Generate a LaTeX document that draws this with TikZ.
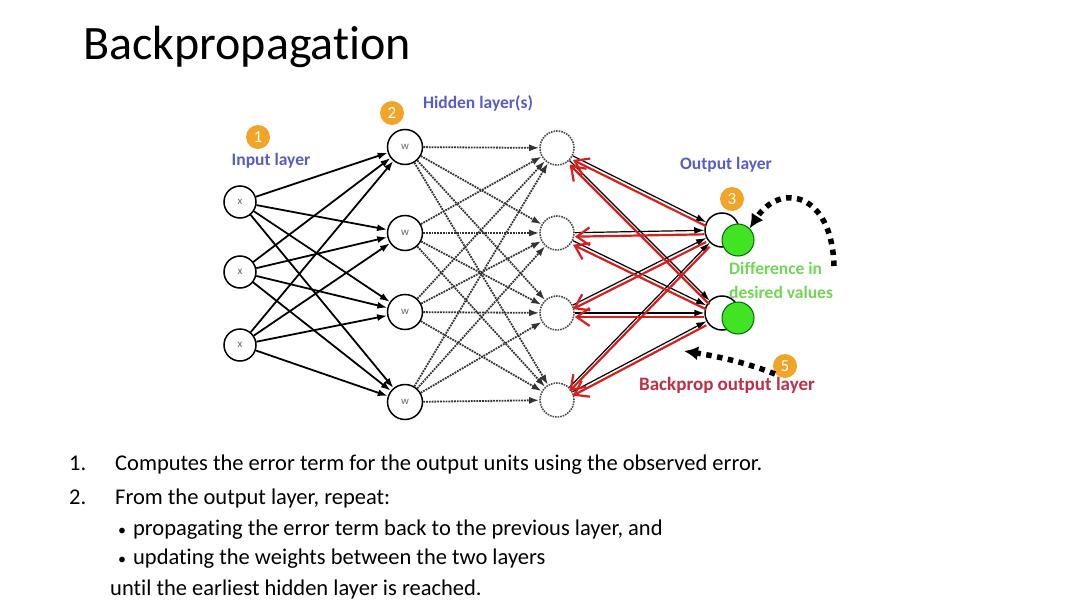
\documentclass[tikz,border=0pt]{standalone}
\usepackage{fontspec}
\setmainfont{Carlito}[Ligatures=NoCommon]
\usetikzlibrary{arrows.meta}

\definecolor{labelblue}{RGB}{88,92,200}
\definecolor{badge}{RGB}{240,165,40}
\definecolor{diffgreen}{RGB}{112,214,84}
\definecolor{nodegreen}{RGB}{64,228,34}
\definecolor{backred}{RGB}{214,32,32}
\definecolor{textred}{RGB}{190,48,70}

\tikzset{
  unit/.style={circle, draw, line width=1.5pt, fill=white, minimum size=32pt, inner sep=0pt, font=\fontsize{11}{11}\selectfont, text=black!60},
  hidunit/.style={unit, minimum size=35pt},
  dotunit/.style={circle, draw=black!70, densely dotted, line width=1.6pt, minimum size=34pt, inner sep=0pt},
  greenunit/.style={circle, draw=black!60!green, line width=1pt, fill=nodegreen, minimum size=32pt},
  numbadge/.style={circle, fill=badge, minimum size=24pt, inner sep=0pt, text=white, font=\fontsize{17}{17}\selectfont},
  layerlabel/.style={font=\fontsize{17.5}{17.5}\selectfont\bfseries},
  fwd/.style={line width=1.8pt, -{Latex[length=10pt,width=7pt]}},
  fwddot/.style={line width=1.8pt, black!80, densely dotted, -{Latex[length=10pt,width=7pt]}},
  back/.style={line width=2.2pt, backred, -{Straight Barb[length=13pt,width=18pt,line width=2.2pt]}},
  hint/.style={line width=5.5pt, dash pattern=on 5.5pt off 5.5pt, -{Latex[length=14pt,width=14pt]}},
  bodytext/.style={anchor=base west, inner sep=0pt, font=\fontsize{22.5}{22.5}\selectfont}
}

\begin{document}
\begin{tikzpicture}[x=1pt, y=-1pt]
\useasboundingbox (0,0) rectangle (1080,608);

\def\xin{240};
\def\xha{405};
\def\xhb{557};
\def\xout{722};

% title
\node[anchor=base west, inner sep=0pt, font=\fontsize{48}{48}\selectfont] (title) at (83,59) {Backpropagation};

% input layer
\node[unit] (in1) at (\xin,202) {x};
\node[unit] (in2) at (\xin,272) {x};
\node[unit] (in3) at (\xin,345) {x};

% first hidden layer
\node[hidunit] (ha1) at (\xha,147) {w};
\node[hidunit] (ha2) at (\xha,233) {w};
\node[hidunit] (ha3) at (\xha,312) {w};
\node[hidunit] (ha4) at (\xha,402) {w};

% second hidden layer
\node[dotunit] (hb1) at (\xhb,148) {};
\node[dotunit] (hb2) at (\xhb,233) {};
\node[dotunit] (hb3) at (\xhb,313) {};
\node[dotunit] (hb4) at (\xhb,400) {};

% output layer
\node[unit, minimum size=34pt] (out1) at (\xout,230) {};
\node[unit, minimum size=34pt] (out2) at (\xout,313) {};
\node[greenunit] (g1) at (738,240) {};
\node[greenunit] (g2) at (738,318) {};

% forward
\foreach \i in {1,2,3}
  \foreach \j in {1,2,3,4}
    \draw[fwd] (in\i) -- (ha\j);
\foreach \i in {1,2,3,4}
  \foreach \j in {1,2,3,4}
    \draw[fwddot] (ha\i) -- (hb\j);
\foreach \i in {1,2,3,4}
  \foreach \j in {1,2}
    \draw[fwd, line width=1.2pt] (hb\i) -- (out\j);

% backward
\foreach \j in {1,2}
  \foreach \i in {1,2,3,4}
    \draw[back, transform canvas={yshift=-4pt}] (out\j) -- (hb\i);

% labels
\node[layerlabel, text=labelblue] (lin) at (271,161) {Input layer};
\node[layerlabel, text=labelblue] (lhid) at (478,103) {Hidden layer(s)};
\node[layerlabel, text=labelblue] (lout) at (726,165) {Output layer};
\node[layerlabel, text=diffgreen, anchor=west, inner sep=0pt] (ldiff) at (729,268) {Difference in};
\node[layerlabel, text=diffgreen, anchor=west, inner sep=0pt] (ldes) at (729,292) {desired values};
\node[layerlabel, text=textred, font=\fontsize{19}{19}\selectfont\bfseries] (lback) at (727,385) {Backprop output layer};

% badges
\node[numbadge] (b1) at (258,137) {1};
\node[numbadge] (b2) at (392,113) {2};
\node[numbadge] (b3) at (732,199) {3};
\node[numbadge] (b5) at (785,366) {5};

% hints
\coordinate (diffend) at (834,266);
\coordinate (backstart) at (775,374);
\coordinate (backend) at (684,351);
\draw[hint] (diffend) .. controls (832,192) and (780,182) .. (g1.north east);
\draw[hint] (backstart) .. controls (745,362) and (715,356) .. (backend);

% steps
\node[bodytext] (n1) at (69,470) {1.};
\node[bodytext] (s1) at (115,470) {Computes the error term for the output units using the observed error.};
\node[bodytext] (n2) at (69,504) {2.};
\node[bodytext] (s2) at (115,504) {From the output layer, repeat:};
\node[bodytext] (s3) at (118,535) {{\fontsize{16}{16}\selectfont\textbullet}\hspace{7pt}propagating the error term back to the previous layer, and};
\node[bodytext] (s4) at (118,564) {{\fontsize{16}{16}\selectfont\textbullet}\hspace{7pt}updating the weights between the two layers};
\node[bodytext] (s5) at (110,595) {until the earliest hidden layer is reached.};

\end{tikzpicture}
\end{document}
